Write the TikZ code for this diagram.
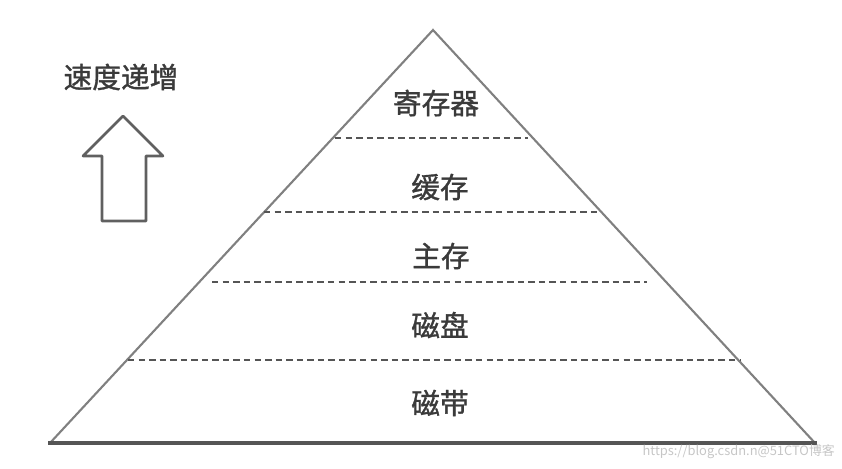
\documentclass[tikz,border=0pt]{standalone}
\usepackage{fontspec}
\usepackage{tikz}
\usetikzlibrary{positioning}
\newfontfamily\cjk[BoldFont={Noto Sans CJK SC}, BoldFeatures={FakeBold=1.2}]{Noto Sans CJK SC}
\newfontfamily\cjkplain{Noto Sans CJK SC}
\definecolor{edgegray}{HTML}{808080}
\definecolor{basegray}{HTML}{555555}
\definecolor{dashgray}{HTML}{555555}
\definecolor{textgray}{HTML}{3A3A3A}

\begin{document}
\begin{tikzpicture}[x=0.03cm, y=-0.03cm,
  level/.style={font=\cjk\bfseries\fontsize{24.5}{26}\selectfont, text=textgray, inner sep=0pt},
  divider/.style={dashgray, line width=1.8pt, dash pattern=on 5.5pt off 3.5pt},
  side/.style={edgegray, line width=1.8pt},
  arrowshape/.style={gray!75!black, line width=2.2pt, line join=round}]

\useasboundingbox (0,0) rectangle (842,468);

% Pyramid corners
\coordinate (apex) at (433,30);
\coordinate (baseL) at (50,443);
\coordinate (baseR) at (815,443);

% Sides and base
\draw[side] (baseL) -- (apex) -- (baseR);
\draw[basegray, line width=2.8pt] (48,443) -- (817,443);

% Dashed dividers
\draw[divider] (335,138) -- (528,138);
\draw[divider] (264,212) -- (598,212);
\draw[divider] (212,282) -- (647,282);
\draw[divider] (128,360) -- (740,360);

% Levels
\node[level] (reg)  at (436,103) {寄存器};
\node[level] (cache) at (440,187) {缓存};
\node[level] (mem)  at (441,256) {主存};
\node[level] (disk) at (440,325) {磁盘};
\node[level] (tape) at (440,403) {磁带};

% Speed label
\node[level] (speed) at (121,77) {速度递增};

% Up arrow
\draw[arrowshape] (123,116) -- (163,156) -- (146,156) -- (146,221)
  -- (102,221) -- (102,156) -- (83,156) -- cycle;

% Watermark
\node[font=\cjkplain\fontsize{11}{12}\selectfont, text=gray!45, anchor=east, inner sep=0pt] (mark) at (835,452) {https://blog.csdn.n@51CTO博客};

\end{tikzpicture}
\end{document}
